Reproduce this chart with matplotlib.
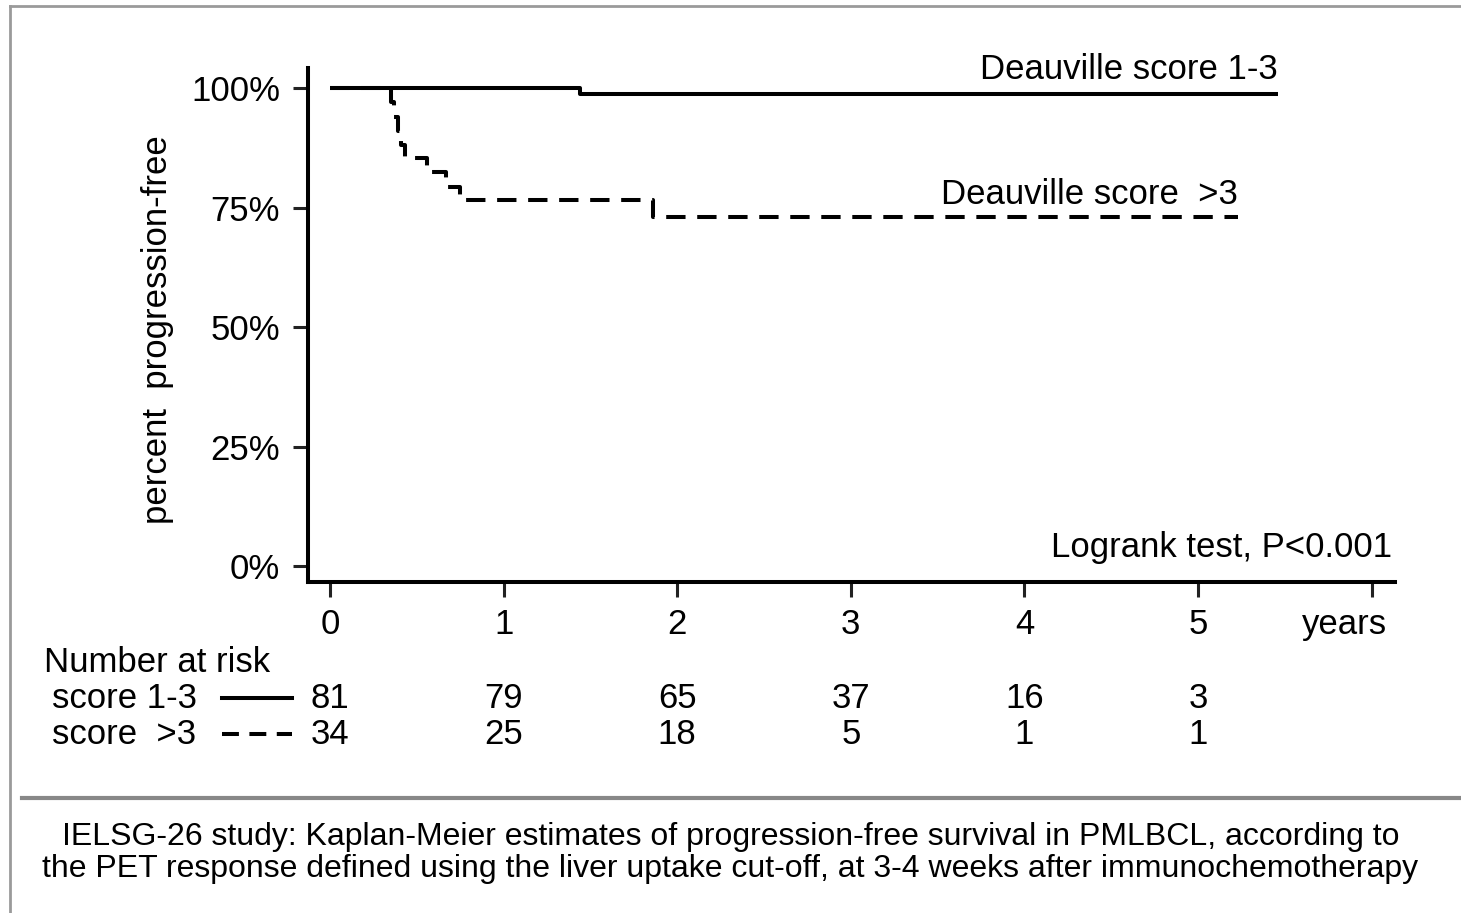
import matplotlib
matplotlib.use("Agg")
import matplotlib.pyplot as plt
import matplotlib.transforms as mtrans
from matplotlib.lines import Line2D

plt.rcParams['font.family'] = ['Liberation Sans', 'DejaVu Sans']

# Kaplan-Meier steps (years, proportion progression-free)
t_low = [0, 1.44, 5.46]
s_low = [1.0, 0.988, 0.988]

t_high = [0, 0.35, 0.37, 0.39, 0.41, 0.43, 0.56, 0.67, 0.75, 1.86, 5.23]
s_high = [1.0, 0.97, 0.94, 0.91, 0.88, 0.853, 0.824, 0.794, 0.765, 0.73, 0.73]

risk_times = [0, 1, 2, 3, 4, 5]
risk_low = [81, 79, 65, 37, 16, 3]
risk_high = [34, 25, 18, 5, 1, 1]

yticks = [0, 0.25, 0.5, 0.75, 1.0]
ytick_labels = ["0%", "25%", "50%", "75%", "100%"]
xticks = [0, 1, 2, 3, 4, 5, 6]
xtick_labels = ["0", "1", "2", "3", "4", "5", "years"]

W, H = 1461, 913
FS = 25
fig = plt.figure(figsize=(W / 100, H / 100), dpi=100)

# axes placed in pixel terms
ax = fig.add_axes([308 / W, 1 - 582 / H, (1395 - 308) / W, (582 - 68) / H])
ax.set_xlim(-0.127, 6.135)
ax.set_ylim(-0.0335, 1.042)

lw = 2.9
ax.step(t_low, s_low, where="post", color="black", lw=lw, solid_capstyle="butt")
ax.step(t_high, s_high, where="post", color="black", lw=lw, dashes=(4.8, 2.9))

for s in ["top", "right"]:
    ax.spines[s].set_visible(False)
for s in ["left", "bottom"]:
    ax.spines[s].set_linewidth(2.9)

ax.set_yticks(yticks)
ax.set_yticklabels(ytick_labels)
ax.set_xticks(xticks)
ax.set_xticklabels(xtick_labels)
ax.tick_params(axis="both", labelsize=FS, width=2.2, length=11, color="#222222")
ax.tick_params(axis="y", pad=9)
ax.tick_params(axis="x", pad=8)

# "years" sits right-aligned just past its tick
yrs = ax.get_xticklabels()[-1]
yrs.set_ha("right")
yrs.set_transform(yrs.get_transform() + mtrans.ScaledTranslation(0.15, 0, fig.dpi_scale_trans))

fig.text(158 / W, 1 - 330 / H, "percent  progression-free", fontsize=FS, rotation=90,
         ha="center", va="center")

ax.text(5.46, 1.038, "Deauville score 1-3", fontsize=FS, ha="right", va="center")
ax.text(5.23, 0.778, "Deauville score  >3", fontsize=FS, ha="right", va="center")
ax.text(6.117, 0.038, "Logrank test, P<0.001", fontsize=FS, ha="right", va="center")

# number at risk table
fig.text(44 / W, 1 - 663 / H, "Number at risk", fontsize=FS, ha="left", va="center")
fig.text(52 / W, 1 - 698 / H, "score 1-3", fontsize=FS, ha="left", va="center")
fig.text(52 / W, 1 - 734 / H, "score  >3", fontsize=FS, ha="left", va="center")
fig.add_artist(Line2D([222 / W, 292 / W], [1 - 698 / H, 1 - 698 / H], color="black", lw=2.9,
                      transform=fig.transFigure))
fig.add_artist(Line2D([222 / W, 292 / W], [1 - 734 / H, 1 - 734 / H], color="black", lw=2.9,
                      dashes=(4.2, 2.6), transform=fig.transFigure))

for t, a, b in zip(risk_times, risk_low, risk_high):
    xf = fig.transFigure.inverted().transform(ax.transData.transform((t, 0)))[0]
    fig.text(xf, 1 - 698 / H, str(a), fontsize=FS, ha="center", va="center")
    fig.text(xf, 1 - 734 / H, str(b), fontsize=FS, ha="center", va="center")

# frame lines and separator
gray = "#9a9a9a"
fig.add_artist(Line2D([10 / W, 1], [1 - 6 / H, 1 - 6 / H], color=gray, lw=2, transform=fig.transFigure))
fig.add_artist(Line2D([10 / W, 10 / W], [0, 1 - 6 / H], color=gray, lw=2, transform=fig.transFigure))
fig.add_artist(Line2D([22 / W, 1], [1 - 798 / H, 1 - 798 / H], color="#888888", lw=3,
                      transform=fig.transFigure))

caption = ("IELSG-26 study: Kaplan-Meier estimates of progression-free survival in PMLBCL, according to\n"
           "the PET response defined using the liver uptake cut-off, at 3-4 weeks after immunochemotherapy")
fig.text(0.5, 1 - 853 / H, caption, fontsize=23, ha="center", va="center", linespacing=1.08)

fig.savefig("out.png", dpi=100)
